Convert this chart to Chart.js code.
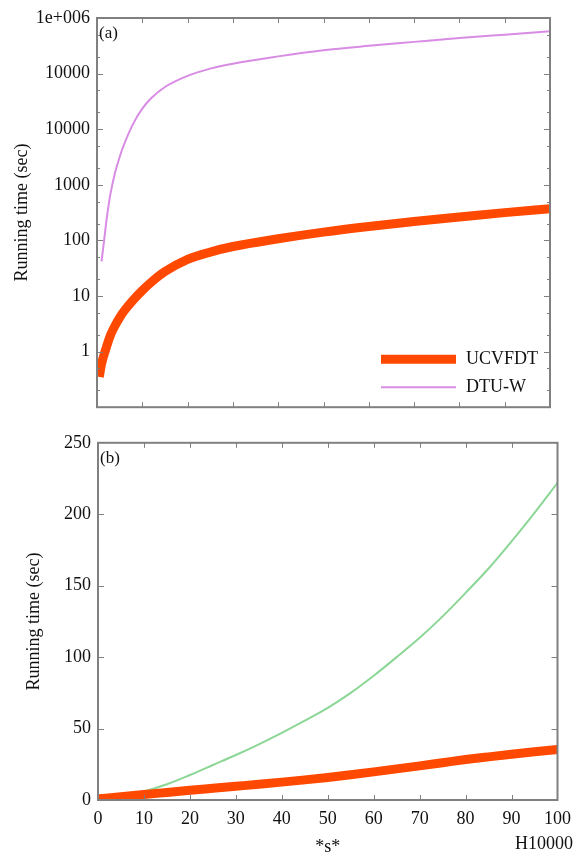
<!DOCTYPE html>
<html>
<head>
<meta charset="utf-8">
<script src="https://cdn.jsdelivr.net/npm/chart.js@4.4.0/dist/chart.umd.min.js"></script>
<style>
  html, body { margin: 0; padding: 0; background: #fff; }
  #wrap { position: relative; width: 579px; height: 855px; }
  canvas { position: absolute; left: 0; }
  #chartA { top: 0; }
  #chartB { top: 425px; }
</style>
</head>
<body>
<div id="wrap">
  <canvas id="chartA" width="579" height="425"></canvas>
  <canvas id="chartB" width="579" height="430"></canvas>
</div>
<script>
// panel (a), log scale
var topUcvfdtX  = [0.5, 1, 2, 3, 4, 5, 6, 8, 10, 12, 15, 20, 25, 30, 40, 50, 60, 70, 80, 90, 100];
var topUcvfdt   = [0.35, 0.6, 1.15, 2.0, 2.95, 4.1, 5.4, 8.5, 12.6, 17.8, 27.5, 45.7, 61.7, 77.6, 107, 141, 178, 219, 263, 316, 372];
var topDtuWX    = [1, 1.5, 2, 2.5, 3, 4, 5, 6, 8, 10, 12, 15, 20, 25, 30, 40, 50, 60, 70, 80, 90, 100];
var topDtuW     = [42, 89, 200, 400, 710, 1660, 3160, 5370, 12600, 23400, 36300, 57500, 91200, 123000, 151000, 204000, 263000, 316000, 372000, 437000, 501000, 575000];
var topTickVals = [1, 10, 100, 1000, 10000, 100000, 1000000];
var topTickText = ['1', '10', '100', '1000', '10000', '10000', '1e+006'];

// panel (b), linear scale
var bottomX      = [0, 5, 10, 15, 20, 25, 30, 35, 40, 45, 50, 55, 60, 65, 70, 75, 80, 85, 90, 95, 100];
var bottomUcvfdt = [0.8, 2.2, 3.8, 5.3, 6.8, 8.2, 9.6, 11, 12.5, 14.1, 15.8, 17.7, 19.7, 21.8, 23.9, 26.1, 28.3, 30.2, 32, 33.7, 35.3];
var bottomDtuW   = [1, 2.5, 6, 11, 17.5, 24.5, 31.5, 39, 47, 55.5, 64.5, 75, 87, 100, 113.5, 128.5, 145, 162, 181, 201, 222];

var ORANGE = 'rgb(255,72,0)';
var VIOLET = 'rgb(216,140,228)';
var GREEN  = 'rgb(140,214,150)';
var SERIF  = '"Liberation Serif", "Times New Roman", serif';
var INK    = '#111';

function pairs(xs, ys) {
  return xs.map(function (x, i) { return { x: x, y: ys[i] } })
}

// frame round the plot, inward ticks, panel tag
var framePlugin = {
  id: 'frame',
  afterDatasetsDraw: function (chart, args, opts) {
    var ctx = chart.ctx, a = chart.chartArea, sx = chart.scales.x, sy = chart.scales.y;
    ctx.save();
    ctx.strokeStyle = '#808080';
    ctx.lineWidth = 1;
    ctx.beginPath();
    opts.xTicks.forEach(function (v) {
      var px = Math.round(sx.getPixelForValue(v)) + 0.5;
      ctx.moveTo(px, a.top); ctx.lineTo(px, a.top + 5);
      ctx.moveTo(px, a.bottom); ctx.lineTo(px, a.bottom - 5);
    });
    opts.yTicks.forEach(function (t) {
      var py = Math.round(sy.getPixelForValue(t.v)) + 0.5, len = t.major ? 6 : 3;
      ctx.moveTo(a.left, py); ctx.lineTo(a.left + len, py);
      ctx.moveTo(a.right, py); ctx.lineTo(a.right - len, py);
    });
    ctx.stroke();
    ctx.lineWidth = 2;
    ctx.strokeRect(a.left, a.top, a.right - a.left, a.bottom - a.top);
    ctx.fillStyle = INK;
    ctx.font = '17px ' + SERIF;
    ctx.textBaseline = 'middle';
    ctx.textAlign = 'left';
    ctx.fillText(opts.tag, a.left + 2, a.top + 16);
    ctx.restore();
  }
};

// legend drawn inside the plot, lower right
var keyPlugin = {
  id: 'key',
  afterDraw: function (chart, args, opts) {
    if (!opts.show) return;
    var ctx = chart.ctx, a = chart.chartArea;
    ctx.save();
    chart.data.datasets.forEach(function (ds, i) {
      var y = a.bottom - 48 + i * 28;
      ctx.strokeStyle = ds.borderColor;
      ctx.lineWidth = ds.borderWidth;
      ctx.lineCap = 'butt';
      ctx.beginPath();
      ctx.moveTo(a.right - 169, y);
      ctx.lineTo(a.right - 94, y);
      ctx.stroke();
      ctx.fillStyle = INK;
      ctx.font = '18px ' + SERIF;
      ctx.textBaseline = 'middle';
      ctx.fillText(ds.label, a.right - 84, y);
    });
    ctx.restore();
  }
};

// unit note at the lower right of panel (b)
var notePlugin = {
  id: 'note',
  afterDraw: function (chart, args, opts) {
    if (!opts.text) return;
    var ctx = chart.ctx;
    ctx.save();
    ctx.fillStyle = INK;
    ctx.font = '18px ' + SERIF;
    ctx.textAlign = 'right';
    ctx.textBaseline = 'middle';
    ctx.fillText(opts.text, opts.x, opts.y);
    ctx.restore();
  }
};

var logTicks = [];
[0.1, 1, 10, 100, 1000, 10000, 100000].forEach(function (d) {
  logTicks.push({ v: d, major: true }, { v: 2 * d }, { v: 5 * d });
});
logTicks.push({ v: 1000000, major: true });

function lineSet(label, data, color, width) {
  return {
    label: label,
    data: data,
    borderColor: color,
    backgroundColor: color,
    borderWidth: width,
    pointRadius: 0,
    fill: false,
    cubicInterpolationMode: 'monotone',
    borderCapStyle: 'butt'
  }
}

function yTitle(pad) {
  return { display: true, text: 'Running time (sec)', color: INK, font: { family: SERIF, size: 18 }, padding: { top: pad, bottom: 0 } }
}

var tickFont = { family: SERIF, size: 18 };

new Chart(document.getElementById('chartA'), {
  type: 'line',
  data: {
    datasets: [
      lineSet('UCVFDT', pairs(topUcvfdtX, topUcvfdt), ORANGE, 9),
      lineSet('DTU-W', pairs(topDtuWX, topDtuW), VIOLET, 2)
    ]
  },
  plugins: [framePlugin, keyPlugin],
  options: {
    responsive: false,
    animation: false,
    devicePixelRatio: 1,
    layout: { padding: { top: 18, right: 29, bottom: 7, left: 0 } },
    plugins: {
      legend: { display: false },
      tooltip: { enabled: false },
      frame: { tag: '(a)', xTicks: [10, 20, 30, 40, 50, 60, 70, 80, 90], yTicks: logTicks },
      key: { show: true }
    },
    scales: {
      x: { type: 'linear', min: 0, max: 100, display: false },
      y: {
        type: 'logarithmic',
        min: 0.1,
        max: 1000000,
        grid: { display: false, drawTicks: false },
        border: { display: false },
        afterFit: function (s) { s.width = 97 },
        afterBuildTicks: function (s) {
          s.ticks = topTickVals.map(function (v) { return { value: v } });
        },
        ticks: {
          padding: 7,
          color: INK,
          font: tickFont,
          callback: function (v) {
            var i = topTickVals.indexOf(v);
            return i < 0 ? '' : topTickText[i];
          }
        },
        title: yTitle(11)
      }
    }
  }
});

new Chart(document.getElementById('chartB'), {
  type: 'line',
  data: {
    datasets: [
      lineSet('UCVFDT', pairs(bottomX, bottomUcvfdt), ORANGE, 9),
      lineSet('DTU-W', pairs(bottomX, bottomDtuW), GREEN, 2)
    ]
  },
  plugins: [framePlugin, keyPlugin, notePlugin],
  options: {
    responsive: false,
    animation: false,
    devicePixelRatio: 1,
    layout: { padding: { top: 7, right: 20, bottom: 0, left: 0 } },
    plugins: {
      legend: { display: false },
      tooltip: { enabled: false },
      frame: {
        tag: '(b)',
        xTicks: [10, 20, 30, 40, 50, 60, 70, 80, 90],
        yTicks: [{ v: 50, major: true }, { v: 100, major: true }, { v: 150, major: true }, { v: 200, major: true }]
      },
      key: { show: false },
      note: { text: 'H10000', x: 573, y: 419 }
    },
    scales: {
      x: {
        type: 'linear',
        min: 0,
        max: 100,
        grid: { display: false, drawTicks: false },
        border: { display: false },
        afterFit: function (s) { s.height = 55 },
        ticks: { stepSize: 10, autoSkip: false, maxRotation: 0, padding: 8, color: INK, font: tickFont },
        title: { display: true, text: '*s*', color: INK, font: { family: SERIF, size: 18 }, padding: { top: 0, bottom: -3 } }
      },
      y: {
        type: 'linear',
        min: 0,
        max: 250,
        grid: { display: false, drawTicks: false },
        border: { display: false },
        afterFit: function (s) { s.width = 98 },
        ticks: { stepSize: 50, padding: 7, color: INK, font: tickFont },
        title: yTitle(23)
      }
    }
  }
});
</script>
</body>
</html>
